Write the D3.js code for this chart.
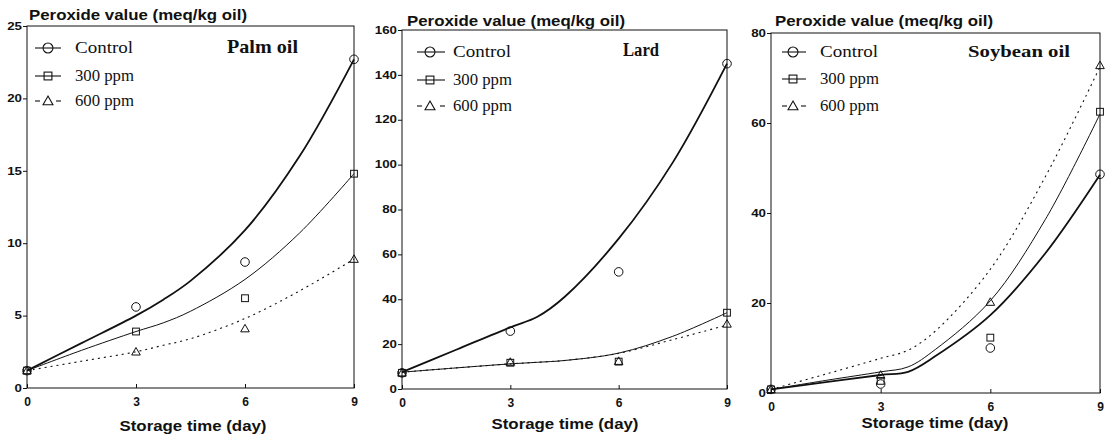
<!DOCTYPE html>
<html>
<head>
<meta charset="utf-8">
<script src="https://cdn.jsdelivr.net/npm/d3@7"></script>
<style>
  body { margin: 0; background: #fff; }
  svg { display: block; }
</style>
</head>
<body>
<svg id="chart" width="1106" height="443"></svg>
<script>
// storage days where the peroxide value was measured
const days = [0, 3, 6, 9];
const fitDays = [0, 1.5, 3, 3.75, 4.5, 6, 7.5, 9];
const xTicks = [0, 3, 6, 9];
const seriesNames = ['Control', '300 ppm', '600 ppm'];
const oilNames = ['Palm oil', 'Lard', 'Soybean oil'];

// Palm oil
const palmTicks = [0, 5, 10, 15, 20, 25];
const palmControl = [1.2, 5.6, 8.7, 22.7];
const palm300 = [1.2, 3.9, 6.2, 14.8];
const palm600 = [1.2, 2.5, 4.1, 8.9];
const palmControlFit = [1.2, 3.1, 5.0, 6.1, 7.4, 10.9, 16.0, 22.7];
const palm300Fit = [1.2, 2.6, 3.9, 4.5, 5.3, 7.5, 10.7, 14.8];
const palm600Fit = [1.2, 1.85, 2.5, 2.95, 3.4, 4.8, 6.7, 8.9];

// Lard
const lardTicks = [0, 20, 40, 60, 80, 100, 120, 140, 160];
const lardControl = [7.2, 25.8, 52.2, 145];
const lard300 = [7.2, 11.7, 12.2, 34];
const lard600 = [7.2, 12.0, 12.4, 29];
const lardControlFit = [7.5, 17.5, 27.5, 32.2, 41, 67, 101, 145];
const lard300Fit = [7.5, 9.4, 11.2, 11.9, 12.7, 16, 23.5, 34];
const lard600Fit = [7.5, 9.4, 11.2, 11.9, 12.7, 15.9, 22, 28.5];

// Soybean oil
const soyTicks = [0, 20, 40, 60, 80];
const soyControl = [0.8, 2.0, 10.0, 48.6];
const soy300 = [0.8, 2.7, 12.3, 62.5];
const soy600 = [0.8, 4.0, 20.2, 72.8];
const soyControlFit = [0.8, 2.4, 4.0, 4.7, 8.2, 17.3, 31, 48.5];
const soy300Fit = [0.8, 2.8, 4.7, 5.8, 9.7, 20.5, 38.5, 62];
const soy600Fit = [0.8, 4.2, 7.7, 9.5, 13.8, 27.5, 48, 72.5];

const svg = d3.select('#chart');
const ink = '#111';

// page layout of the three panels
const panels = [
  { name: oilNames[0], ticks: palmTicks, obs: [palmControl, palm300, palm600], fit: [palmControlFit, palm300Fit, palm600Fit],
    left: 27, right: 354, top: 26, bottom: 388,
    yTitle: { x: 29, y: 20 }, title: { x: 227, y: 53, len: 71, size: 19 },
    legend: { x0: 35, x1: 61, cx: 48, tx: 75, rows: [48, 76, 101] }, xTitle: { x: 193, y: 431 } },
  { name: oilNames[1], ticks: lardTicks, obs: [lardControl, lard300, lard600], fit: [lardControlFit, lard300Fit, lard600Fit],
    left: 402, right: 727, top: 30, bottom: 389,
    yTitle: { x: 407, y: 26 }, title: { x: 623, y: 56, len: 36, size: 18 },
    legend: { x0: 417, x1: 445, cx: 430, tx: 453, rows: [52, 80, 106] }, xTitle: { x: 565, y: 429 } },
  { name: oilNames[2], ticks: soyTicks, obs: [soyControl, soy300, soy600], fit: [soyControlFit, soy300Fit, soy600Fit],
    left: 771, right: 1100, top: 33, bottom: 393,
    yTitle: { x: 775, y: 26 }, title: { x: 968, y: 57, len: 102, size: 17 },
    legend: { x0: 782, x1: 806, cx: 793, tx: 820, rows: [52, 79, 106] }, xTitle: { x: 935, y: 428 } }
];

const lineStyles = [
  { width: 1.8, dash: null },
  { width: 1.0, dash: null },
  { width: 1.1, dash: '2,4' }
];

function drawMarker(g, kind, cx, cy, s) {
  if (kind === 0) {
    g.append('circle').attr('cx', cx).attr('cy', cy).attr('r', 4.3 * s);
  } else if (kind === 1) {
    const h = 3.4 * s;
    g.append('rect').attr('x', cx - h).attr('y', cy - h).attr('width', 2 * h).attr('height', 2 * h);
  } else {
    const h = 4.3 * s;
    g.append('path').attr('d', `M${cx},${cy - h}L${cx + h},${cy + h * 0.75}L${cx - h},${cy + h * 0.75}Z`);
  }
}

panels.forEach(p => {
  const x = d3.scaleLinear().domain([0, 9]).range([p.left, p.right]);
  const y = d3.scaleLinear().domain([0, d3.max(p.ticks)]).range([p.bottom, p.top]);
  const g = svg.append('g');

  // frame
  g.append('rect')
    .attr('x', p.left).attr('y', p.top)
    .attr('width', p.right - p.left).attr('height', p.bottom - p.top)
    .attr('fill', 'none').attr('stroke', ink).attr('stroke-width', 1);

  // axes
  const yAxis = g.append('g')
    .attr('transform', `translate(${p.left},0)`)
    .call(d3.axisLeft(y).tickValues(p.ticks).tickSize(4).tickSizeOuter(0).tickPadding(1));
  yAxis.select('.domain').remove();
  yAxis.selectAll('line').attr('stroke', ink);
  yAxis.selectAll('text')
    .attr('fill', ink)
    .style('font', 'bold 10px "Liberation Sans", Arial, sans-serif')
    .attr('textLength', d => String(d).length * 7.4)
    .attr('lengthAdjust', 'spacingAndGlyphs');

  const xAxis = g.append('g')
    .attr('transform', `translate(0,${p.bottom})`)
    .call(d3.axisBottom(x).tickValues(xTicks).tickSizeInner(-4).tickSizeOuter(0).tickPadding(9));
  xAxis.select('.domain').remove();
  xAxis.selectAll('line').attr('stroke', ink);
  xAxis.selectAll('text')
    .attr('fill', ink)
    .style('font', 'bold 12px "Liberation Sans", Arial, sans-serif');

  // axis titles
  g.append('text')
    .attr('x', p.yTitle.x).attr('y', p.yTitle.y)
    .attr('textLength', 218).attr('lengthAdjust', 'spacingAndGlyphs')
    .style('font', 'bold 14px "Liberation Sans", Arial, sans-serif')
    .attr('fill', ink)
    .text('Peroxide value (meq/kg oil)');

  g.append('text')
    .attr('x', p.xTitle.x).attr('y', p.xTitle.y)
    .attr('text-anchor', 'middle')
    .attr('textLength', 147).attr('lengthAdjust', 'spacingAndGlyphs')
    .style('font', 'bold 15px "Liberation Sans", Arial, sans-serif')
    .attr('fill', ink)
    .text('Storage time (day)');

  // oil name
  g.append('text')
    .attr('x', p.title.x).attr('y', p.title.y)
    .attr('textLength', p.title.len).attr('lengthAdjust', 'spacingAndGlyphs')
    .style('font', `bold ${p.title.size}px "Liberation Serif", "Times New Roman", serif`)
    .attr('fill', ink)
    .text(p.name);

  // fitted curves
  const line = d3.line()
    .x((d, i) => x(fitDays[i]))
    .y(d => y(d))
    .curve(d3.curveCatmullRom.alpha(0.5));

  p.fit.forEach((vals, k) => {
    g.append('path')
      .attr('d', line(vals))
      .attr('fill', 'none')
      .attr('stroke', ink)
      .attr('stroke-width', lineStyles[k].width)
      .attr('stroke-dasharray', lineStyles[k].dash);
  });

  // observed points
  p.obs.forEach((vals, k) => {
    const mg = g.append('g').attr('fill', 'none').attr('stroke', ink).attr('stroke-width', 1);
    vals.forEach((v, i) => drawMarker(mg, k, x(days[i]), y(v), 1));
  });

  // legend
  const L = p.legend;
  seriesNames.forEach((name, k) => {
    const cy = L.rows[k];
    const lg = g.append('g').attr('fill', 'none').attr('stroke', ink).attr('stroke-width', 1.1);
    if (k < 2) {
      lg.append('line').attr('x1', L.x0).attr('x2', L.x1).attr('y1', cy).attr('y2', cy);
    } else {
      lg.append('line').attr('x1', L.x0).attr('x2', L.x0 + 5).attr('y1', cy).attr('y2', cy);
      lg.append('line').attr('x1', L.x1 - 5).attr('x2', L.x1).attr('y1', cy).attr('y2', cy);
    }
    drawMarker(lg, k, L.cx, cy, 1.15);
    g.append('text')
      .attr('x', L.tx).attr('y', cy + 5)
      .attr('textLength', k === 0 ? 58 : 59).attr('lengthAdjust', 'spacingAndGlyphs')
      .style('font', '16px "Liberation Serif", "Times New Roman", serif')
      .attr('fill', ink)
      .text(name);
  });
});
</script>
</body>
</html>
